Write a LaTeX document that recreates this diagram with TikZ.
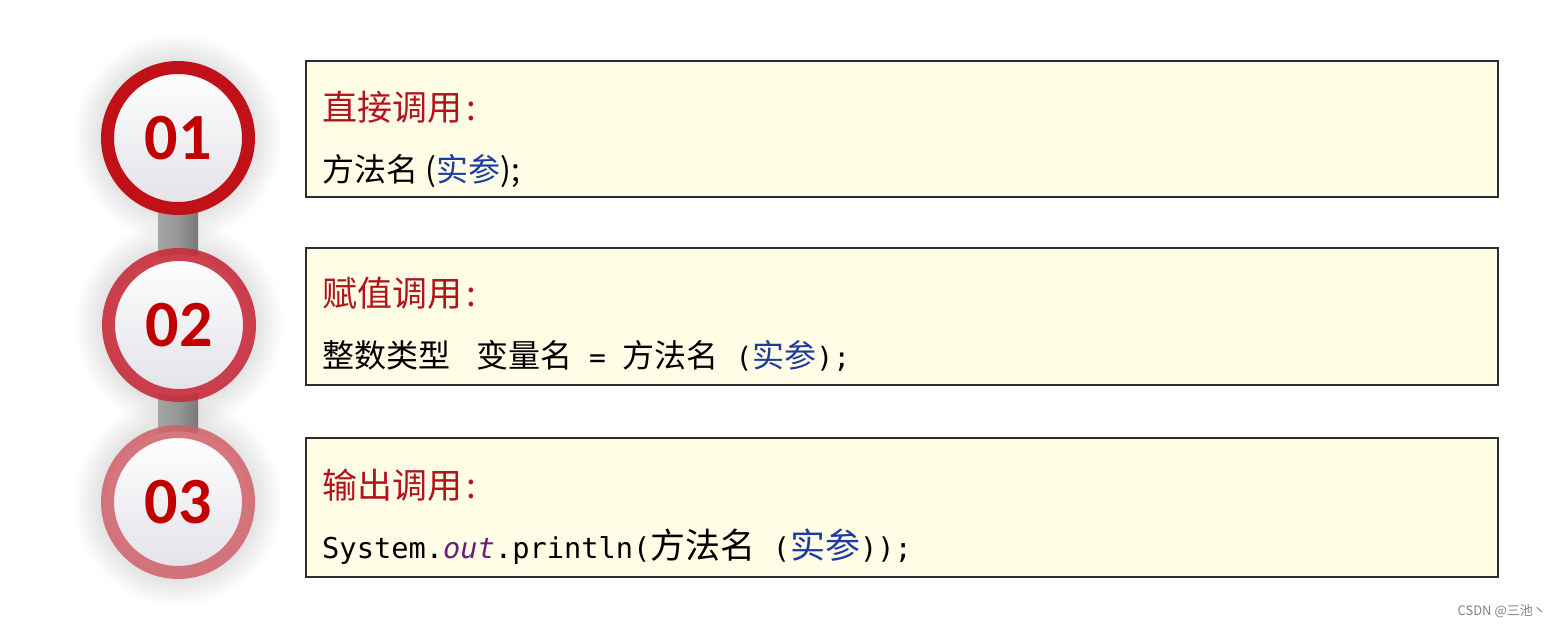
\documentclass[tikz,border=0pt]{standalone}
\usepackage{fontspec}
\setmainfont{Noto Sans CJK SC}
\newfontfamily\codef{DejaVu Sans Mono}
\newfontfamily\numf{Carlito}
\usetikzlibrary{calc,backgrounds}
\definecolor{titlered}{RGB}{178,20,30}
\definecolor{numred}{RGB}{192,0,0}
\definecolor{ringA}{RGB}{192,16,24}
\definecolor{ringB}{RGB}{200,45,60}
\definecolor{ringC}{RGB}{208,95,105}
\definecolor{innergray}{RGB}{226,226,232}
\definecolor{boxfill}{RGB}{255,253,230}
\definecolor{boxline}{RGB}{45,45,45}
\definecolor{argblue}{RGB}{30,60,160}
\definecolor{outpurple}{RGB}{110,30,120}
\definecolor{markgray}{RGB}{130,130,130}
\definecolor{barL}{RGB}{165,165,165}
\definecolor{barM}{RGB}{150,150,150}
\definecolor{barR}{RGB}{120,120,120}
\tikzset{
  box/.style={draw=boxline, fill=boxfill, line width=2pt, minimum width=1192pt, minimum height=136pt, anchor=north west, inner sep=0pt},
  numring/.style={circle, inner sep=0pt, minimum size=141pt, line width=13pt, top color=white, bottom color=innergray, text=numred, font=\numf\bfseries\fontsize{66}{66}\selectfont},
  title/.style={anchor=base west, inner sep=0pt, text=titlered, font=\fontsize{35}{40}\selectfont},
  codeline/.style={anchor=base west, inner sep=0pt, text=black},
}
\begin{document}
\begin{tikzpicture}[x=1pt,y=-1pt]
\useasboundingbox (0,0) rectangle (1561,626);
% circles
\node (c1) [numring, draw=ringA] at (178,138) {01};
\node (c2) [numring, draw=ringB, draw opacity=0.9] at (179,325) {02};
\node (c3) [numring, draw=ringC, draw opacity=0.85] at (178,502) {03};
\begin{scope}[on background layer]
  \fill[white] (0,0) rectangle (1561,626);
  \foreach \n in {c1,c2,c3}{
    \foreach \r in {78,80,...,104}{
      \fill[black,opacity=0.009] (\n.center) circle (\r pt);
    }
  }
  \shade[left color=barL, right color=barR, middle color=barM]
    ($(c1.center)+(-20,0)$) rectangle ($(c3.center)+(20,0)$);
\end{scope}
% boxes
\node (b1) [box] at (305,60) {};
\node (b2) [box, minimum height=137pt] at (305,247) {};
\node (b3) [box, minimum height=139pt] at (305,437) {};
% titles
\node (t1) [title] at (322,120) {直接调用\hspace{4pt}:};
\node (t2) [title] at (322,306) {赋值调用\hspace{4pt}:};
\node (t3) [title] at (322,498) {输出调用\hspace{4pt}:};
% lines
\node (l1) [codeline, font=\fontsize{32}{38}\selectfont] at (322,181) {方法名 (\textcolor{argblue}{实参});};
\node (l2) [codeline, font=\fontsize{32}{38}\selectfont] at (322,367)
  {整数类型\hspace{26pt}变量名{\codef\fontsize{28}{30}\selectfont\ =\ }方法名{\codef\fontsize{28}{30}\selectfont\ (}\textcolor{argblue}{实参}{\codef\fontsize{28}{30}\selectfont);}};
\node (l3) [codeline, font=\fontsize{35}{40}\selectfont] at (322,558)
  {{\codef\fontsize{28.7}{32}\selectfont System.\textcolor{outpurple}{\itshape out}.println(}方法名{\codef\fontsize{28.7}{32}\selectfont\ (}\textcolor{argblue}{实参}{\codef\fontsize{28.7}{32}\selectfont));}};
% watermark
\node (wm) [anchor=base east, inner sep=0pt, text=markgray, font=\fontsize{13}{15}\selectfont] at (1546,615) {CSDN @三池丶};
\end{tikzpicture}
\end{document}
